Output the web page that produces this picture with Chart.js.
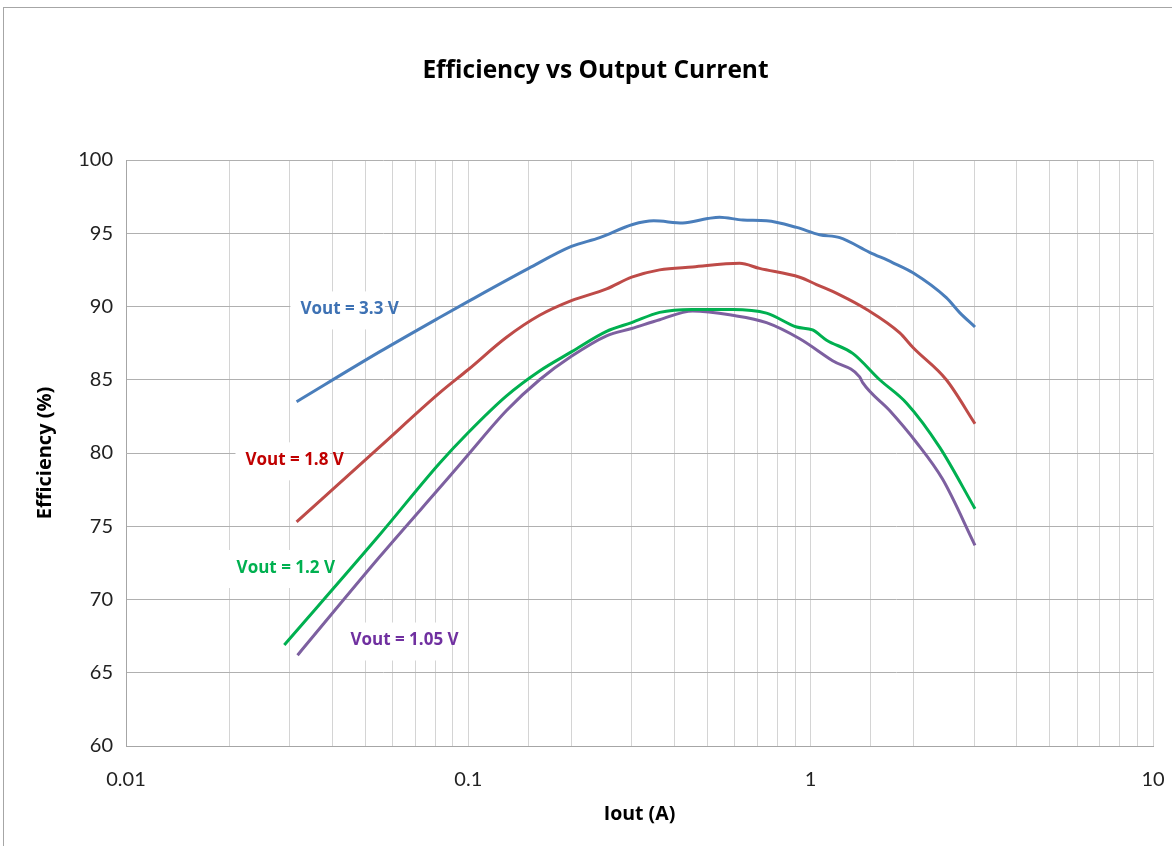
<!DOCTYPE html>
<html>
<head>
<meta charset="utf-8">
<script src="https://cdn.jsdelivr.net/npm/chart.js@4.4.1/dist/chart.umd.min.js"></script>
<style>
  html, body { margin: 0; padding: 0; background: #fff; }
  #frame { position: absolute; left: 3px; top: 7px; width: 1200px; height: 900px;
           border-top: 1px solid #a6a6a6; border-left: 1px solid #a6a6a6; }
  #wrap { position: absolute; left: 0; top: 0; width: 1172px; height: 846px; }
</style>
</head>
<body>
<div id="frame"></div>
<div id="wrap"><canvas id="chart" width="1172" height="846"></canvas></div>
<script>
// Efficiency (%) vs Iout (A)
const x33 = [0.0315, 0.055, 0.0824, 0.1, 0.15, 0.2, 0.242, 0.302, 0.348, 0.423, 0.50, 0.542, 0.634, 0.743, 0.91, 1.062, 1.216, 1.486, 1.734, 1.99, 2.49, 2.72, 3.02];
const eff33 = [83.5, 86.9, 89.25, 90.35, 92.6, 94.1, 94.7, 95.6, 95.85, 95.7, 96.0, 96.1, 95.9, 95.85, 95.4, 94.9, 94.7, 93.7, 93.0, 92.3, 90.6, 89.6, 88.6];

const x18 = [0.0315, 0.055, 0.0824, 0.1, 0.1293, 0.1615, 0.2, 0.2534, 0.3, 0.362, 0.452, 0.62, 0.709, 0.929, 1.04, 1.216, 1.458, 1.821, 1.99, 2.49, 3.02];
const eff18 = [75.3, 80.4, 84.1, 85.7, 87.9, 89.4, 90.4, 91.2, 92.0, 92.5, 92.7, 92.95, 92.6, 92.0, 91.5, 90.8, 89.8, 88.2, 87.2, 85.0, 82.0];

const x12 = [0.029, 0.055, 0.0824, 0.1, 0.1293, 0.1615, 0.2, 0.2534, 0.3, 0.362, 0.45, 0.591, 0.743, 0.91, 1.013, 1.113, 1.327, 1.591, 1.907, 2.38, 3.02];
const eff12 = [66.9, 74.4, 79.3, 81.4, 83.9, 85.6, 86.9, 88.3, 88.9, 89.6, 89.8, 89.8, 89.55, 88.6, 88.4, 87.7, 86.8, 85.0, 83.4, 80.4, 76.2];

const x105 = [0.0317, 0.055, 0.0912, 0.1, 0.1293, 0.1615, 0.2, 0.2534, 0.3, 0.362, 0.452, 0.591, 0.743, 0.929, 1.159, 1.39, 1.419, 1.701, 2.04, 2.43, 3.02];
const eff105 = [66.2, 72.9, 78.8, 79.9, 82.9, 85.0, 86.6, 88.0, 88.5, 89.1, 89.7, 89.4, 88.9, 87.8, 86.3, 85.2, 84.8, 82.9, 80.7, 78.2, 73.7];

const seriesNames = ['Vout = 3.3 V', 'Vout = 1.8 V', 'Vout = 1.2 V', 'Vout = 1.05 V'];
const xTickLabels = ['0.01', '0.1', '1', '10'];
const yTicks = [60, 65, 70, 75, 80, 85, 90, 95, 100];

const lineColors = ['#4a7ebb', '#be4b48', '#00b050', '#7d60a0'];
const textColors = ['#3e72b4', '#c00000', '#00b050', '#7030a0'];

// label anchors in data units (Iout, Efficiency)
const labelAnchors = [[0.045, 89.8], [0.0311, 79.5], [0.0293, 72.15], [0.0651, 67.2]];

function pts(xs, ys) { return xs.map((x, i) => ({ x: x, y: ys[i] })); }

const FONT = 'Lato, "Open Sans", "Liberation Sans", sans-serif';
const BOLD = '"Open Sans", Lato, "Liberation Sans", sans-serif';

const inlineLabels = {
  id: 'inlineLabels',
  afterDatasetsDraw(chart) {
    const ctx = chart.ctx;
    const xs = chart.scales.x, ys = chart.scales.y;
    ctx.save();
    ctx.font = 'bold 17px ' + BOLD;
    ctx.textAlign = 'center';
    ctx.textBaseline = 'middle';
    seriesNames.forEach((name, i) => {
      const px = xs.getPixelForValue(labelAnchors[i][0]);
      const py = ys.getPixelForValue(labelAnchors[i][1]);
      const w = ctx.measureText(name).width;
      ctx.fillStyle = '#fff';
      ctx.fillRect(px - w / 2 - 10, py - 18, w - 4, 38);
      ctx.fillStyle = textColors[i];
      ctx.fillText(name, px, py);
    });
    ctx.restore();
  }
};

const data = [pts(x33, eff33), pts(x18, eff18), pts(x12, eff12), pts(x105, eff105)];

new Chart(document.getElementById('chart'), {
  type: 'scatter',
  data: {
    datasets: data.map((d, i) => ({
      label: seriesNames[i],
      data: d,
      showLine: true,
      borderColor: lineColors[i],
      backgroundColor: lineColors[i],
      borderWidth: 3,
      pointRadius: 0,
      cubicInterpolationMode: 'monotone'
    }))
  },
  options: {
    responsive: false,
    animation: false,
    layout: { padding: { left: 38, right: 19, top: 0, bottom: 0 } },
    plugins: {
      legend: { display: false },
      tooltip: { enabled: false },
      title: {
        display: true,
        text: 'Efficiency vs Output Current',
        color: '#000',
        font: { family: BOLD, size: 24.5, weight: 'bold', lineHeight: 1.2 },
        padding: { top: 56, bottom: 74.6 }
      }
    },
    scales: {
      x: {
        type: 'logarithmic',
        min: 0.01,
        max: 10,
        afterFit(scale) {
          scale.height = 100;
          scale.paddingLeft = 0;
          scale.paddingRight = 0;
        },
        grid: { color: '#d4d4d4', lineWidth: 1, drawTicks: false },
        border: { color: '#a6a6a6', width: 1 },
        ticks: {
          autoSkip: false,
          maxRotation: 0,
          padding: 22,
          color: '#222',
          font: { family: FONT, size: 20 },
          callback(v) {
            const e = Math.log10(v);
            if (Math.abs(e - Math.round(e)) < 1e-6) return xTickLabels[Math.round(e) + 2];
            return '';
          }
        },
        title: {
          display: true,
          text: 'Iout (A)',
          color: '#000',
          font: { family: BOLD, size: 19.5, weight: 'bold', lineHeight: 1.2 },
          padding: { top: 0, bottom: 20 }
        }
      },
      y: {
        min: 60,
        max: 100,
        afterFit(scale) { scale.width = 88; },
        afterBuildTicks(scale) { scale.ticks = yTicks.map(v => ({ value: v })); },
        grid: { color: '#b0b0b0', lineWidth: 1, drawTicks: false },
        border: { color: '#a6a6a6', width: 1 },
        ticks: {
          padding: 13,
          color: '#222',
          font: { family: FONT, size: 20 }
        },
        title: {
          display: true,
          text: 'Efficiency (%)',
          color: '#000',
          font: { family: BOLD, size: 20, weight: 'bold', lineHeight: 1.2 },
          padding: { top: -5, bottom: 0 }
        }
      }
    }
  },
  plugins: [inlineLabels]
});
</script>
</body>
</html>
